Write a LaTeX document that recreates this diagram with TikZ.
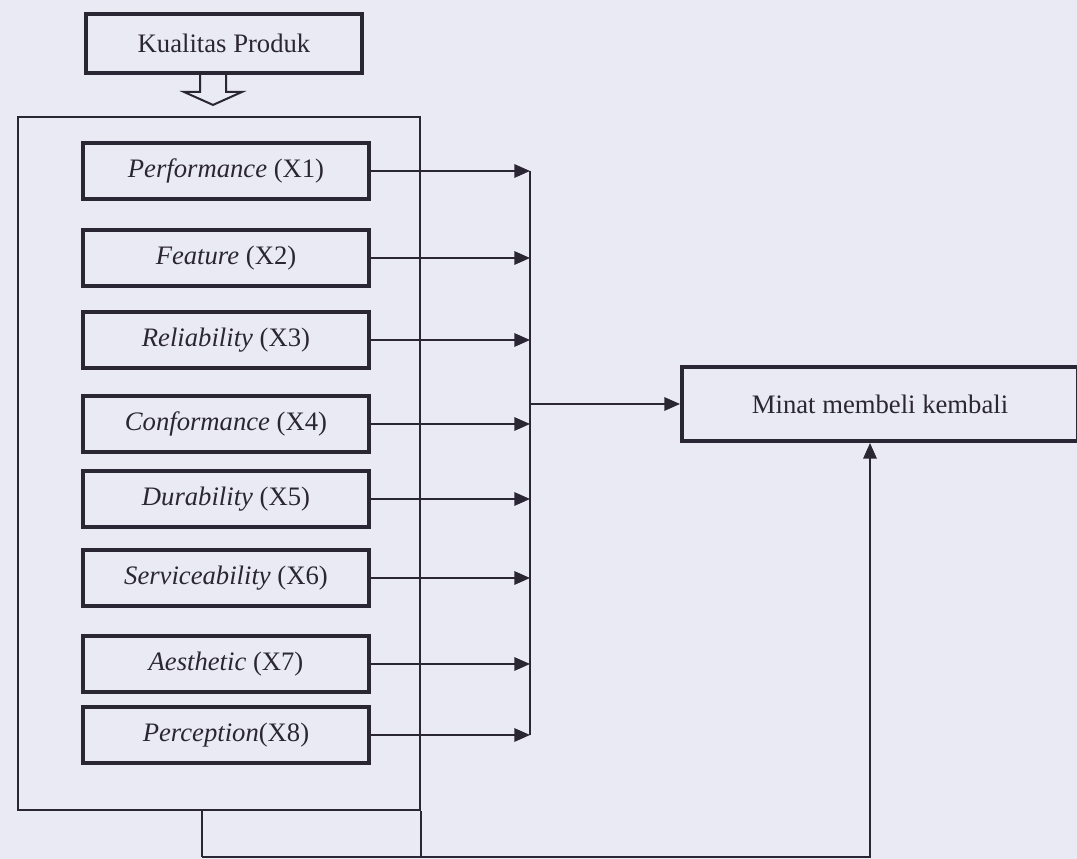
\documentclass[tikz,border=0pt]{standalone}
\usepackage{fontspec}
\setmainfont{Liberation Serif}
\usetikzlibrary{arrows.meta, calc}
\definecolor{cKertas}{HTML}{EAEAF4}
\definecolor{cTinta}{HTML}{2A2633}

\begin{document}
\begin{tikzpicture}[x=0.45pt, y=-0.45pt,
    kotak/.style={draw=cTinta, line width=1.8pt, inner sep=0pt, align=center,
                  font=\fontsize{12}{14}\selectfont, text=cTinta},
    faktor/.style={kotak, minimum width=129pt, minimum height=25.5pt},
    bingkai/.style={draw=cTinta, line width=0.8pt, inner sep=0pt,
                    minimum width=181pt, minimum height=312pt},
    ln/.style={draw=cTinta, line width=0.8pt},
    ar/.style={ln, -{Triangle[length=7pt,width=6pt]}},
    hollow/.style={ln, line width=0.9pt, line join=miter},
]
\useasboundingbox (0,0) rectangle (1077,859);
\fill[cKertas] (0,0) rectangle (1077,859);

% === TOP: Kualitas Produk and the hollow arrow ===
\node[kotak, minimum width=124pt, minimum height=26.5pt] (kualitas) at (224,43.5) {Kualitas Produk};
\draw[hollow] ([xshift=-10.8pt]kualitas.south) -- ++(0,17) -- ++(-16,0) -- ++(29,13)
    -- ++(29,-13) -- ++(-16,0) -- ++(0,-17);

% === FRAME with the eight dimensions ===
\node[bingkai] (dimensi) at (219,463.5) {};

\node[faktor] (x1) at (226,171) {\textit{Performance} (X1)};
\node[faktor] (x2) at (226,258) {\textit{Feature} (X2)};
\node[faktor] (x3) at (226,340) {\textit{Reliability} (X3)};
\node[faktor] (x4) at (226,424) {\textit{Conformance} (X4)};
\node[faktor] (x5) at (226,499) {\textit{Durability} (X5)};
\node[faktor] (x6) at (226,578) {\textit{Serviceability} (X6)};
\node[faktor] (x7) at (226,664) {\textit{Aesthetic} (X7)};
\node[faktor] (x8) at (226,735) {\textit{Perception}(X8)};

% === RIGHT: Minat membeli kembali ===
\node[kotak, minimum width=178.2pt, minimum height=33.3pt] (minat) at (880,404) {Minat membeli kembali};

% arrows into the collector
\coordinate (kumpul) at (530,404);
\draw[ar] (x1.east) -- (x1.east -| kumpul);
\draw[ar] (x2.east) -- (x2.east -| kumpul);
\draw[ar] (x3.east) -- (x3.east -| kumpul);
\draw[ar] (x4.east) -- (x4.east -| kumpul);
\draw[ar] (x5.east) -- (x5.east -| kumpul);
\draw[ar] (x6.east) -- (x6.east -| kumpul);
\draw[ar] (x7.east) -- (x7.east -| kumpul);
\draw[ar] (x8.east) -- (x8.east -| kumpul);
\draw[ln] (x1.east -| kumpul) -- (x8.east -| kumpul);
\draw[ar] (kumpul) -- (minat.west);

% === BOTTOM: frame as a whole into Minat ===
\coordinate (bawah) at (202,857);
\draw[ln] (dimensi.south -| bawah) -- (bawah);
\draw[ln] (dimensi.south east) -- (dimensi.south east |- bawah);
\draw[ar] (bawah) -| ([xshift=-4.5pt]minat.south);

\end{tikzpicture}
\end{document}
